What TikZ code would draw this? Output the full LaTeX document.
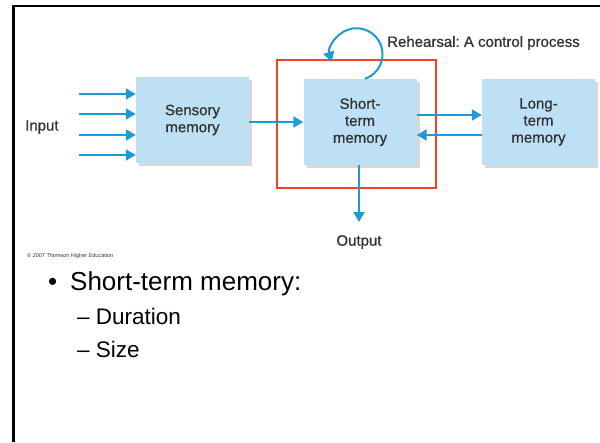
\documentclass[tikz,border=0pt]{standalone}
\usepackage{fontspec}
\setmainfont{Liberation Sans}
\newfontfamily\medfont[FakeBold=0.8]{Liberation Sans}
\frenchspacing
\usetikzlibrary{arrows.meta,shadows,calc}
\definecolor{boxblue}{HTML}{BEE0F4}
\definecolor{arrblue}{HTML}{1E9BD7}
\definecolor{redframe}{HTML}{F2441E}
\definecolor{labgray}{HTML}{333333}
\begin{document}
\begin{tikzpicture}[x=1pt,y=1pt,
  membox/.style={fill=boxblue,draw=none,minimum width=113pt,minimum height=86pt,
    align=center,font=\medfont\fontsize{15}{17}\selectfont,text=labgray,
    drop shadow={shadow xshift=3pt,shadow yshift=-3pt,opacity=0.3}},
  flow/.style={draw=arrblue,line width=2pt,-{Triangle[length=10pt,width=11pt]}},
  lab/.style={font=\medfont\fontsize{15}{17}\selectfont,text=labgray},
  bulletline/.style={font=\fontsize{26}{30}\selectfont,anchor=base west,inner sep=0pt},
  subline/.style={font=\fontsize{22.5}{26}\selectfont,anchor=base west,inner sep=0pt}]
\useasboundingbox (0,0) rectangle (600,-442);
\fill[white] (0,0) rectangle (600,-442);
% slide frame
\draw[line width=2.5pt,black] (13.5,-442) -- (13.5,-6) -- (600,-6);
% boxes
\node[membox] (sens) at (192.5,-120) {Sensory\\memory};
\node[membox] (stm) at (360,-122) {Short-\\term\\memory};
\node[membox] (ltm) at (538.5,-122) {Long-\\term\\memory};
% red highlight
\node[draw=redframe,line width=2pt,minimum width=159pt,minimum height=128pt,inner sep=0pt] (hl) at (356.5,-124) {};
% input
\node[lab,anchor=west,inner sep=0pt] (input) at (25,-127) {Input};
\coordinate (i1) at (79,-94);
\coordinate (i2) at (79,-114);
\coordinate (i3) at (79,-135);
\coordinate (i4) at (79,-155);
\foreach \c in {i1,i2,i3,i4} \draw[flow] (\c) -- (\c -| sens.west);
% sensory to stm
\draw[flow] (sens.east |- 0,-122) -- (stm.west |- 0,-122);
% stm <-> ltm
\draw[flow] ([yshift=7pt]stm.east) -- ([yshift=7pt]ltm.west);
\draw[flow] ([yshift=-13pt]ltm.west) -- ([yshift=-13pt]stm.east);
% output
\node[lab,inner sep=0pt] (out) at (359,-242) {Output};
\draw[flow] (359,-165) -- (359,-222);
% rehearsal loop
\draw[flow] ([xshift=5pt]stm.north) arc[start angle=-71,end angle=197,radius=26];
\node[lab,anchor=west,inner sep=0pt] (reh) at (387,-43) {Rehearsal: A control process};
% copyright
\node[anchor=west,inner sep=0pt,font=\fontsize{5.5}{6}\selectfont,text=labgray] (copy) at (27,-256) {© 2007 Thomson Higher Education};
% bullets
\node[bulletline] (b0) at (48,-290) {•};
\node[bulletline] (b1) at (70,-290) {Short-term memory:};
\node[subline] (s1) at (77,-324) {– Duration};
\node[subline] (s2) at (77,-357) {– Size};
\end{tikzpicture}
\end{document}
